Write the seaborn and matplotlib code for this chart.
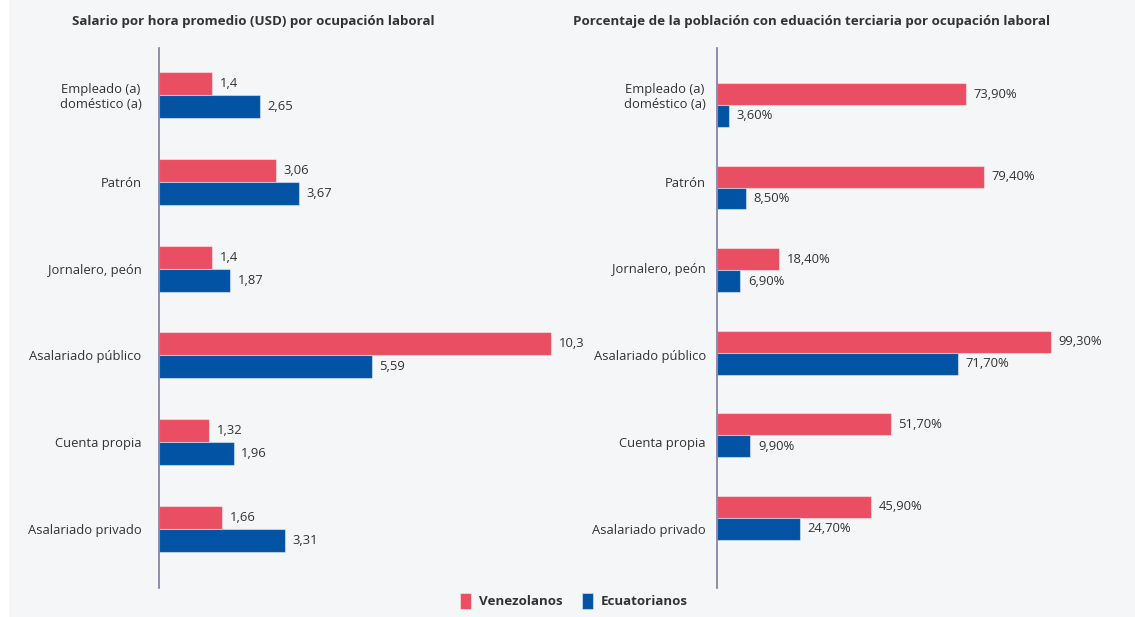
import numpy as np
import matplotlib
matplotlib.use('Agg')
import matplotlib.pyplot as plt
from matplotlib.patches import Rectangle
import seaborn as sns
import pandas as pd

# Data
ocupaciones = ['Empleado (a)\ndoméstico (a)', 'Patrón', 'Jornalero, peón',
               'Asalariado público', 'Cuenta propia', 'Asalariado privado']
grupos = ['Venezolanos', 'Ecuatorianos']
salario_ven = [1.4, 3.06, 1.4, 10.3, 1.32, 1.66]
salario_ecu = [2.65, 3.67, 1.87, 5.59, 1.96, 3.31]
terciaria_ven = [73.9, 79.4, 18.4, 99.3, 51.7, 45.9]
terciaria_ecu = [3.6, 8.5, 6.9, 71.7, 9.9, 24.7]

titulo_izq = 'Salario por hora promedio (USD) por ocupación laboral'
titulo_der = 'Porcentaje de la población con eduación terciaria por ocupación laboral'

colores = {'Venezolanos': '#e94e62', 'Ecuatorianos': '#0353a4'}
fondo = '#f5f6f8'
texto = '#333333'


def to_long(ven, ecu):
    return pd.DataFrame({
        'ocupacion': ocupaciones * 2,
        'grupo': ['Venezolanos'] * len(ven) + ['Ecuatorianos'] * len(ecu),
        'valor': list(ven) + list(ecu),
    })


df_sal = to_long(salario_ven, salario_ecu)
df_ter = to_long(terciaria_ven, terciaria_ecu)

sns.set_style('white')
plt.rcParams['font.family'] = ['Open Sans', 'DejaVu Sans']

W, H = 1135, 617
fig = plt.figure(figsize=(W / 100, H / 100), dpi=100, facecolor=fondo)
# white strip on the left edge
fig.patches.append(Rectangle((0, 0), 9 / W, 1, transform=fig.transFigure,
                             facecolor='white', edgecolor='none', zorder=0))

ax1 = fig.add_axes([159 / W, 1 - 588 / H, 419 / W, 540 / H])
ax2 = fig.add_axes([717 / W, 1 - 588 / H, 387 / W, 540 / H])


def draw(ax, df, xlim, ylim, fmt, pad):
    sns.barplot(data=df, y='ocupacion', x='valor', hue='grupo', hue_order=grupos,
                order=ocupaciones, palette=colores, saturation=1, orient='h',
                width=0.53, edgecolor=(1, 1, 1, 0.45), linewidth=0.8,
                errorbar=None, ax=ax)
    ax.set_facecolor(fondo)
    ax.set_xlim(*xlim)
    ax.set_ylim(*ylim)
    ax.set_xlabel('')
    ax.set_ylabel('')
    ax.set_xticks([])
    for s in ['top', 'right', 'bottom']:
        ax.spines[s].set_visible(False)
    ax.spines['left'].set_color('#7d7ba3')
    ax.spines['left'].set_linewidth(1.2)
    ax.tick_params(axis='y', length=0, pad=pad, labelsize=9.4, labelcolor=texto)
    for cont in ax.containers:
        ax.bar_label(cont, labels=[fmt(v) for v in cont.datavalues], padding=5.5,
                     fontsize=9.4, color=texto, clip_on=False)
    ax.get_legend().remove()


draw(ax1, df_sal, (0, 11), (5.68, -0.54),
     lambda v: f'{v:g}'.replace('.', ','), 12.5)
draw(ax2, df_ter, (0, 115), (5.85, -0.69),
     lambda v: f'{v:.2f}%'.replace('.', ','), 8)

# the right panel keeps its category labels at the same heights as the left one
filas = np.arange(len(ocupaciones))
ax2.set_yticks((filas + 0.54) * 86.8 / 82.6 - 0.69, labels=ocupaciones)
for ax in (ax1, ax2):
    for lbl in ax.get_yticklabels():
        lbl.set_multialignment('center')

fig.text(253 / W, 1 - 22 / H, titulo_izq, ha='center', va='center',
         fontsize=9.6, fontweight='bold', color=texto)
fig.text(812 / W, 1 - 22 / H, titulo_der, ha='center', va='center',
         fontsize=9.6, fontweight='bold', color=texto)

handles, labels = ax1.get_legend_handles_labels()
if not handles:
    handles = [Rectangle((0, 0), 1, 1, color=colores[g]) for g in grupos]
    labels = grupos
fig.legend(handles, labels, loc='center', bbox_to_anchor=(574 / W, 1 - 601 / H),
           ncol=2, frameon=False, handlelength=0.82, handleheight=1.5,
           handletextpad=0.6, columnspacing=1.4,
           prop={'size': 9.6, 'weight': 'bold'}, labelcolor=texto)

fig.savefig('out.png', dpi=100, facecolor=fondo)
